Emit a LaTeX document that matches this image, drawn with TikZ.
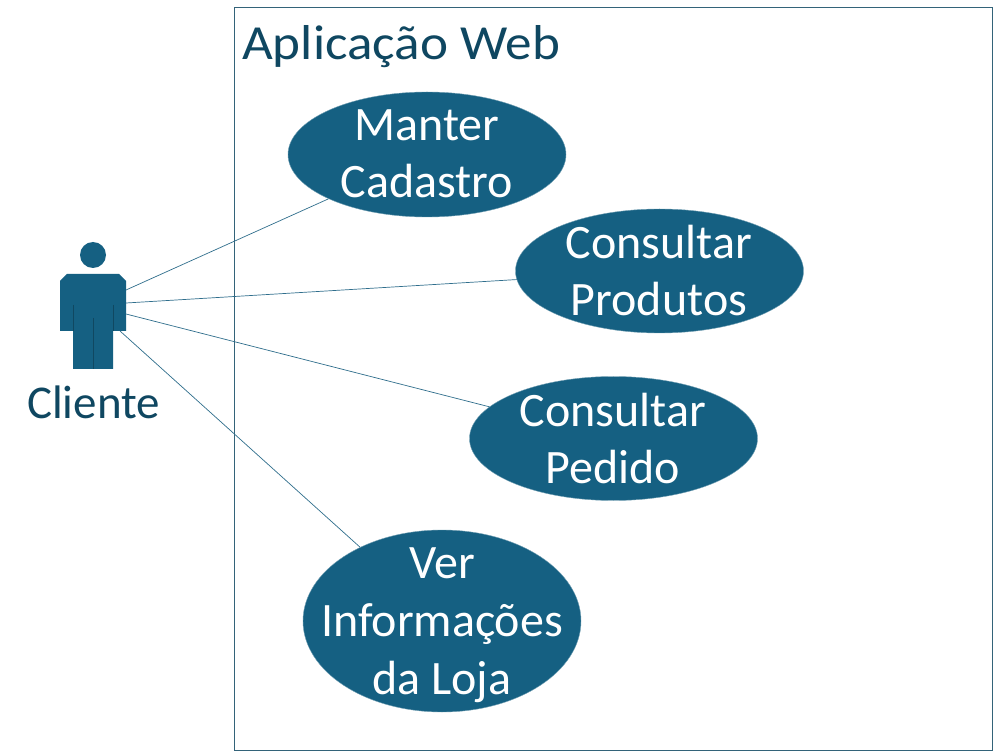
\documentclass[tikz,border=0pt]{standalone}
\usepackage{fontspec}
\setmainfont{Carlito}
\newfontfamily\titlefont[FakeStretch=1.085]{Carlito}
\usetikzlibrary{shapes.geometric}
\definecolor{ub}{HTML}{156082}
\definecolor{txtb}{HTML}{0F4761}
\definecolor{lineb}{HTML}{2F6E8C}
\tikzset{x=1pt,y=-1pt,
 usecase/.style={ellipse,draw=ub!60!white,line width=.4pt,fill=ub,inner sep=0pt},
 ulabel/.style={text=white,inner sep=0pt,align=center,font=\fontsize{48}{57}\selectfont},
 conn/.style={draw=lineb,line width=.7pt},
 lab/.style={text=txtb,inner sep=0pt}}
\begin{document}
\begin{tikzpicture}
\useasboundingbox (0,0) rectangle (994,751);
\fill[white] (0,0) rectangle (994,751);
\draw[txtb!85!white,line width=.9pt] (234,7.5) rectangle (992,750);
\node[lab,anchor=base west,font=\titlefont\fontsize{49}{57}\selectfont] (title) at (242,60) {Aplicação Web};
\node[usecase,minimum width=278pt,minimum height=125pt] (u1) at (427,154.5) {};
\node[usecase,minimum width=288pt,minimum height=124pt] (u2) at (659.5,271) {};
\node[usecase,minimum width=288pt,minimum height=124pt] (u3) at (613.5,438.5) {};
\node[usecase,minimum width=278pt,minimum height=182pt] (u4) at (442,621) {};
\node[ulabel,anchor=base] (t1) at (427,198) {Manter\\Cadastro};
\node[ulabel,anchor=base] (t2) at (659,316) {Consultar\\Produtos};
\node[ulabel,anchor=base] (t3) at (613,483) {Consultar\\Pedido};
\node[ulabel,anchor=base,font=\fontsize{48}{58}\selectfont] (t4) at (442,694) {Ver\\Informações\\da Loja};
\fill[ub] (93,255) circle (13);
\fill[ub] (67,274) -- (119,274) -- (126,281) -- (126,331) -- (113,331) -- (113,369) -- (73,369) -- (73,331) -- (60,331) -- (60,281) -- cycle;
\draw[black!25!ub,line width=.5pt] (73,305) -- (73,331) (113,305) -- (113,331) (93,318) -- (93,369);
\coordinate (a1) at (126,290);
\coordinate (a2) at (126,303);
\coordinate (a3) at (126,314);
\coordinate (a4) at (120,331);
\node[lab,anchor=base,font=\fontsize{47}{57}\selectfont] (cl) at (93.5,418.5) {Cliente};
\draw[conn] (a1) -- (u1);
\draw[conn] (a2) -- (u2);
\draw[conn] (a3) -- (u3);
\draw[conn] (a4) -- (u4);
\end{tikzpicture}
\end{document}
